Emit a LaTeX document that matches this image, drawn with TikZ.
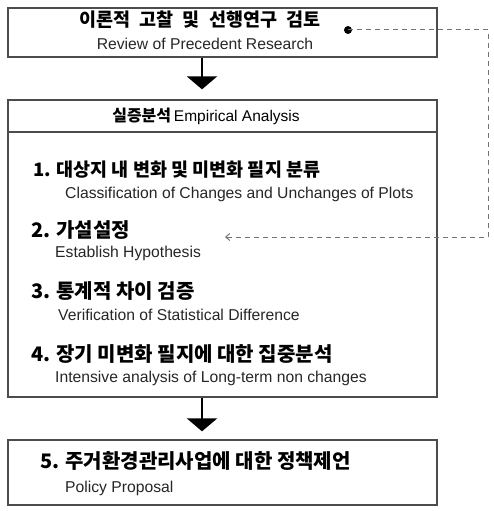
\documentclass[tikz,border=0pt]{standalone}
\usepackage{fontspec}
\setmainfont{Liberation Sans}
\newfontfamily\kr{Noto Sans CJK KR}
\usetikzlibrary{arrows.meta,positioning}

\tikzset{
  stagebox/.style={draw=black!70,line width=1.3pt,minimum width=429pt,inner sep=0pt},
  krtext/.style={font=\kr\bfseries\fontsize{20}{22}\selectfont,anchor=west,inner sep=0pt},
  entext/.style={font=\fontsize{15.7}{17}\selectfont,text=black!85,anchor=west,inner sep=0pt},
  flow/.style={line width=2.6pt,-{Triangle[width=30pt,length=13pt]}},
  feedback/.style={draw=black!55,line width=1pt,dash pattern=on 5pt off 4pt}
}

\begin{document}
\begin{tikzpicture}[x=1pt,y=-1pt]
\useasboundingbox (0,0) rectangle (494,511);

%% REVIEW BOX
\node[stagebox,minimum height=49pt] (review) at (222.5,32.5) {};
\node[krtext,anchor=center,font=\kr\bfseries\fontsize{18.5}{20}\selectfont] (reviewkr) at (200,20)
  {\spaceskip=0.5em\relax 이론적 고찰 및 선행연구 검토};
\node[entext,anchor=center] (reviewen) at (205,44) {Review of Precedent Research};

%% EMPIRICAL ANALYSIS - header and body
\node[stagebox,minimum height=32pt] (empirical) at (222.5,116) {};
\node[stagebox,minimum height=265pt] (steps) at (222.5,264.5) {};
\node[anchor=center] (empiricaltitle) at (206,116)
  {{\kr\bfseries\fontsize{16}{18}\selectfont 실증분석}\ {\fontsize{15.5}{17}\selectfont Empirical Analysis}};

% step 1
\node[krtext,font=\kr\bfseries\fontsize{18.5}{21}\selectfont] (stepone) at (33,170) {1. 대상지 내 변화 및 미변화 필지 분류};
\node[entext] (stepone en) at (65,194) {Classification of Changes and Unchanges of Plots};

% step 2
\node[krtext] (steptwo) at (31,230) {2. 가설설정};
\node[entext] (steptwo en) at (55,253) {Establish Hypothesis};

% step 3
\node[krtext] (stepthree) at (31,291) {3. 통계적 차이 검증};
\node[entext] (stepthree en) at (58,315) {Verification of Statistical Difference};

% step 4
\node[krtext] (stepfour) at (31,354) {4. 장기 미변화 필지에 대한 집중분석};
\node[entext] (stepfour en) at (55,378) {Intensive analysis of Long-term non changes};

%% POLICY BOX
\node[stagebox,minimum height=65pt] (policy) at (222.5,472.5) {};
\node[krtext] (policykr) at (40,461) {5. 주거환경관리사업에 대한 정책제언};
\node[entext] (policyen) at (65,488) {Policy Proposal};

%% MAIN FLOW
\draw[flow,shorten >=10pt] (review.south -| 202,0) -- (empirical.north -| 202,0);
\draw[flow,shorten >=8pt] (steps.south -| 202,0) -- (policy.north -| 202,0);

%% FEEDBACK LINK
\coordinate (feedstart) at (348,30);
\coordinate (feedend) at (225,237);
\fill (feedstart) circle (4pt);
\draw[feedback,-{Straight Barb[length=4pt,width=7pt]}] (feedstart) -- (488,30) |- (feedend);
\end{tikzpicture}
\end{document}
